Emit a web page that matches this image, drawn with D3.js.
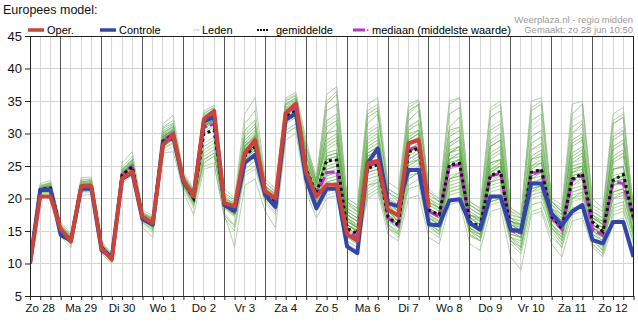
<!DOCTYPE html>
<html><head><meta charset="utf-8">
<script src="https://cdn.jsdelivr.net/npm/d3@7"></script>
<style>
html,body{margin:0;padding:0;background:#fff;}
svg{display:block;font-family:Arial,"Liberation Sans",sans-serif;}
</style></head><body>
<svg id="c" width="638" height="329"></svg>
<script>
// ---- data ----
const dayLabels = ["Zo 28","Ma 29","Di 30","Wo 1","Do 2","Vr 3","Za 4","Zo 5","Ma 6","Di 7","Wo 8","Do 9","Vr 10","Za 11","Zo 12"];
const yTicks = [5,10,15,20,25,30,35,40,45];
const legendLabels = ["Oper.","Controle","Leden","gemiddelde","mediaan (middelste waarde)"];
// 6-hourly steps from Zo 28 06:00
const steps = d3.range(60);

const oper = [10.0,20.3,20.3, 15.3,13.4,21.9,21.9, 12.3,10.6,23.1,24.1, 17.2,16.2,28.2,29.8, 22.8,20.3,32.2,33.5,
  19.3,18.8,27.0,29.0, 21.1,20.0,33.1,34.6, 24.0,20.3,22.1,22.1, 14.5,13.5,25.4,25.8, 18.3,17.4,28.5,29.0, 18.7];
const controle = [10.0,21.3,21.3, 14.4,13.5,21.5,21.5, 12.0,11.0,23.0,24.0, 16.8,16.0,28.5,29.5, 22.5,20.5,31.8,32.6,
  19.0,18.1,25.5,26.7, 20.5,18.7,32.1,33.1, 23.0,18.5,21.5,21.5, 12.6,11.6,25.4,27.7, 19.3,18.8,24.4,24.4,
  16.0,15.9,19.7,19.9, 16.2,15.2,20.3,20.3, 15.2,15.0,22.3,22.3, 17.7,15.9,18.0,19.0, 13.6,13.1,16.4,16.4, 11.0];
const gemiddelde = [10.0,21.4,21.6, 15.3,13.6,21.9,21.9, 12.5,10.8,23.6,24.9, 17.1,16.1,28.8,29.8, 22.6,20.0,30.0,30.5,
  19.0,18.0,26.5,28.0, 20.8,19.6,32.5,33.5, 24.5,20.8,25.8,25.9, 15.4,14.6,24.6,25.2, 17.2,15.9,27.2,27.7,
  18.2,17.5,25.2,25.4, 16.4,15.7,23.5,24.2, 15.2,14.9,24.0,24.5, 17.2,15.4,23.0,23.8, 16.4,14.9,22.8,23.7, 17.0];
const mediaan = [10.0,21.4,21.6, 15.3,13.6,21.9,21.9, 12.5,10.8,23.6,24.9, 17.1,16.1,29.0,30.0, 22.6,20.0,30.9,31.5,
  19.0,18.0,26.8,28.2, 20.9,19.7,32.8,33.8, 24.0,20.5,24.0,24.1, 15.0,14.0,25.0,25.5, 17.0,15.8,27.5,28.0,
  18.0,17.2,25.0,25.2, 16.2,15.5,23.4,23.9, 15.0,14.7,23.7,24.3, 17.0,15.2,22.8,23.6, 15.2,14.4,22.6,22.3, 16.8];

const leden = [
 [10.0,21.6,21.8, 15.4,13.8,22.0,22.2, 12.8,11.0,23.8,25.2, 17.3,16.4,29.5,30.4, 23.0,20.6,31.5,32.6, 19.6,18.5,27.5,29.0, 21.3,20.0,33.4,34.5, 25.0,21.2,26.0,26.5, 17.0,15.8,27.0,27.8, 19.0,17.5,29.0,30.0, 19.0,18.0,27.0,27.5, 17.5,16.8,25.5,26.0, 16.5,15.8,26.0,26.5, 18.5,16.5,25.0,25.5, 16.5,15.5,24.5,24.8, 18.0],
 [9.8,20.8,20.9, 14.8,13.0,21.0,21.2, 12.0,10.4,22.8,24.0, 16.4,15.2,27.8,28.6, 21.8,19.0,26.0,27.0, 17.5,15.8,24.5,25.8, 19.8,18.2,30.5,31.5, 22.5,18.8,21.5,21.8, 14.5,13.5,21.5,22.5, 16.0,14.8,22.0,23.0, 15.8,14.5,20.5,21.0, 14.2,13.5,19.5,20.0, 13.5,12.5,19.0,19.5, 15.0,13.0,18.5,19.0, 13.5,12.0,17.5,18.0, 13.5],
 [10.1,21.8,22.2, 15.8,14.2,22.5,22.8, 13.0,11.2,24.2,25.6, 17.6,16.8,30.2,31.0, 23.4,21.0,32.5,33.4, 20.2,19.2,29.0,30.5, 21.8,20.8,34.5,35.4, 26.5,22.0,30.0,31.5, 18.5,17.5,31.5,33.0, 21.0,19.5,32.0,33.5, 21.0,19.5,31.0,32.5, 19.0,18.0,30.5,31.5, 17.5,17.0,32.0,33.0, 19.5,18.0,30.0,31.5, 18.0,17.0,29.5,30.5, 18.0],
 [9.9,21.0,21.2, 15.0,13.4,21.6,21.5, 12.4,10.8,23.2,24.4, 16.8,15.6,28.4,29.4, 22.2,19.6,27.5,28.5, 18.6,17.4,26.0,27.5, 20.4,19.0,32.0,33.0, 23.5,20.0,23.0,23.5, 15.5,14.5,24.0,24.5, 17.5,16.0,27.0,28.0, 17.5,16.5,26.0,27.0, 16.0,15.0,22.5,23.0, 14.5,14.0,21.0,21.5, 16.0,14.0,22.0,23.0, 15.0,14.0,21.0,21.5, 16.5],
 [10.2,22.0,22.4, 16.0,14.4,22.8,23.0, 13.2,11.4,24.5,26.0, 17.8,17.0,30.8,31.6, 23.6,21.2,33.0,34.0, 20.8,19.8,30.5,32.0, 22.5,21.0,35.0,35.8, 28.0,22.5,33.5,34.5, 19.5,18.5,33.0,34.0, 21.5,20.5,33.5,34.5, 20.0,18.5,28.0,29.0, 16.5,15.5,24.0,25.0, 15.0,14.0,21.0,22.0, 16.0,14.5,20.0,21.0, 14.0,13.0,19.0,19.5, 14.0],
 [9.8,20.6,20.8, 14.6,12.8,20.8,21.0, 11.8,10.2,22.6,23.8, 16.0,14.8,27.2,28.0, 21.4,18.4,26.5,27.5, 17.8,16.0,23.5,24.5, 19.2,17.5,30.0,31.0, 21.5,18.0,20.5,21.0, 14.0,13.0,22.0,23.0, 16.5,15.5,25.0,26.0, 17.0,16.5,28.0,29.5, 18.5,17.5,30.0,31.0, 18.0,17.5,31.0,32.5, 19.0,18.0,32.0,33.0, 18.5,17.5,31.5,32.5, 17.5],
 [10.0,21.4,21.6, 15.3,13.6,21.9,21.9, 12.6,10.9,23.6,25.0, 17.1,16.1,29.0,30.0, 22.6,20.2,31.0,32.0, 19.2,18.2,27.0,28.5, 21.0,19.8,33.0,34.0, 24.5,21.0,25.0,25.5, 16.5,15.5,26.5,27.0, 18.5,17.0,28.5,29.5, 18.5,17.5,22.0,22.5, 15.5,14.5,20.0,20.5, 14.0,13.5,23.0,24.0, 17.5,15.5,26.0,27.0, 17.0,16.0,26.0,27.0, 18.5],
 [9.9,21.1,21.3, 15.1,13.3,21.7,21.7, 12.3,10.6,23.3,24.6, 16.9,15.8,28.6,29.6, 22.4,19.8,28.0,29.0, 19.0,17.8,26.5,28.0, 20.6,19.2,32.5,33.5, 23.0,19.5,22.0,22.5, 13.5,12.5,20.5,21.5, 15.5,14.5,23.0,24.0, 16.0,15.0,24.5,25.5, 16.5,15.5,26.0,27.0, 16.0,15.5,24.0,24.5, 17.0,15.0,23.5,24.0, 15.0,14.0,23.5,24.0, 17.0],
 [10.1,21.7,22.0, 15.6,14.0,22.3,22.5, 12.9,11.1,24.0,25.4, 17.4,16.6,29.8,30.8, 23.2,20.8,32.0,33.0, 19.8,18.8,28.5,30.0, 21.6,20.4,34.0,35.0, 27.5,23.0,34.5,36.0, 19.5,18.0,29.0,30.0, 20.0,18.5,25.0,26.0, 16.5,15.5,23.0,24.0, 15.5,14.5,22.5,23.5, 14.5,14.0,24.5,25.5, 17.5,16.0,24.0,25.0, 16.0,15.0,22.0,23.0, 16.0],
 [10.0,21.2,21.4, 15.2,13.5,21.8,21.8, 12.5,10.8,23.4,24.8, 17.0,16.0,28.8,29.8, 22.5,20.0,30.8,31.8, 19.0,17.9,26.8,28.2, 20.8,19.5,32.8,33.8, 24.0,20.5,24.0,24.5, 16.0,15.0,25.0,25.5, 18.0,16.5,26.0,27.0, 17.0,16.0,21.0,21.5, 14.5,13.5,19.0,19.5, 13.0,11.5,18.0,18.5, 14.0,12.5,17.5,18.0, 13.0,11.5,16.5,17.0, 12.0],
 [10.0,21.5,21.7, 15.3,13.7,22.0,22.1, 12.7,11.0,23.7,25.1, 17.2,16.3,29.2,30.2, 22.8,20.4,31.2,32.2, 19.4,18.4,27.8,29.5, 21.2,20.2,33.8,34.8, 25.5,22.0,28.0,29.0, 17.5,16.5,28.0,29.0, 19.5,18.0,30.5,31.5, 19.5,18.5,29.5,30.5, 18.0,17.0,28.0,29.0, 17.0,16.5,27.5,28.5, 18.5,17.5,28.0,29.0, 17.5,16.5,27.5,28.5, 19.0],
 [9.9,21.3,21.5, 15.0,13.2,21.6,21.7, 12.2,10.5,23.2,24.5, 16.6,15.4,28.2,29.2, 22.0,19.2,26.5,27.5, 17.5,15.5,25.5,27.0, 20.2,18.8,31.5,32.5, 23.5,19.8,23.5,24.0, 15.0,14.0,24.5,25.0, 17.0,15.0,27.5,28.5, 16.5,15.0,25.5,26.0, 15.0,13.5,23.5,24.0, 13.5,12.0,23.5,24.0, 16.0,14.0,22.5,23.0, 14.0,12.5,22.0,22.5, 15.5],
 [10.2,22.3,22.8, 16.3,14.6,23.2,23.3, 13.4,11.5,25.5,27.2, 18.2,17.4,31.5,32.8, 24.0,21.5,33.5,34.3, 21.5,20.0,33.0,35.5, 23.0,21.5,35.5,36.3, 29.0,22.5,36.0,37.2, 20.0,19.0,34.5,35.5, 22.5,21.5,34.5,35.2, 21.5,20.0,34.5,35.5, 19.5,18.5,34.0,35.0, 18.5,17.5,35.0,35.5, 20.0,19.0,34.5,35.0, 20.0,18.5,33.0,34.0, 18.0],
 [9.6,20.4,20.5, 14.2,12.4,20.5,20.6, 11.5,10.0,22.4,23.5, 15.6,14.0,27.0,27.2, 21.0,17.5,24.5,25.0, 17.5,12.6,22.0,23.0, 18.0,15.5,29.0,30.0, 21.0,17.0,20.0,20.5, 13.0,12.0,20.0,21.0, 14.5,13.5,20.0,20.5, 14.0,13.0,19.0,19.5, 13.0,12.0,18.0,18.5, 11.0,9.0,17.5,18.0, 13.0,11.0,16.5,17.0, 12.5,11.0,16.0,16.5, 11.0],
 [10.0,21.6,21.8, 15.5,13.9,22.2,22.3, 12.8,11.0,23.9,25.3, 17.4,16.5,29.5,30.5, 23.0,20.5,31.8,32.8, 19.6,18.6,28.0,29.8, 21.5,20.3,33.6,34.6, 26.0,22.0,29.0,30.0, 18.0,17.0,30.0,31.0, 20.0,19.0,31.0,32.0, 20.0,19.0,30.5,31.0, 18.5,17.5,26.5,27.5, 16.5,15.5,25.0,26.0, 17.5,16.0,24.5,25.0, 15.5,14.5,21.0,21.5, 15.0],
 [9.9,21.0,21.1, 14.9,13.2,21.4,21.5, 12.3,10.6,23.0,24.3, 16.7,15.6,28.0,29.0, 22.0,19.4,27.0,28.0, 18.8,17.6,26.0,27.0, 20.4,19.0,32.0,33.0, 22.5,19.0,22.5,23.0, 15.5,14.5,23.5,24.0, 17.0,16.0,24.0,25.0, 17.5,16.0,23.5,24.0, 16.5,15.5,21.0,21.5, 15.5,15.0,22.0,23.0, 17.5,16.0,20.5,21.0, 14.5,13.5,18.5,19.0, 14.5],
 [10.1,21.9,22.3, 15.7,14.1,22.6,22.7, 13.0,11.2,24.3,25.8, 17.6,16.9,30.0,31.2, 23.3,20.9,32.8,33.6, 20.0,19.0,29.5,31.0, 22.0,20.6,34.3,35.2, 27.0,22.5,31.0,32.0, 18.0,17.0,27.5,28.5, 19.5,18.0,27.0,28.0, 18.5,17.5,27.0,28.0, 17.5,16.5,28.0,29.0, 16.5,16.0,28.5,29.5, 19.0,17.5,29.0,30.0, 17.0,16.5,28.0,29.0, 17.5],
 [9.9,21.2,21.4, 15.1,13.4,21.7,21.8, 12.4,10.7,23.3,24.6, 16.9,15.8,28.6,29.6, 22.3,19.7,30.3,31.3, 18.9,17.7,26.3,27.7, 20.5,19.2,32.3,33.3, 23.8,20.3,25.5,26.0, 16.5,15.5,22.5,23.0, 16.0,15.0,24.5,25.5, 16.5,15.5,26.5,27.0, 17.0,16.0,23.0,23.5, 15.0,14.5,25.5,26.5, 17.0,15.5,21.0,21.5, 14.5,13.0,22.5,23.0, 16.5],
 [10.0,21.5,21.6, 15.4,13.7,21.9,22.0, 12.6,10.9,23.6,25.0, 17.1,16.2,29.0,30.0, 22.6,20.1,31.0,32.0, 19.2,18.0,27.2,28.6, 21.0,19.7,33.0,34.0, 24.5,20.8,27.0,27.5, 16.5,15.5,25.5,26.0, 18.0,16.8,27.5,28.5, 18.0,17.0,26.0,26.5, 16.5,15.5,24.5,25.5, 16.0,15.0,24.0,24.5, 18.0,16.5,24.0,24.5, 15.5,14.5,24.5,25.0, 17.5],
 [10.0,21.3,21.5, 15.2,13.5,21.8,21.9, 12.5,10.8,23.5,24.8, 17.0,16.0,28.8,29.8, 22.5,20.0,30.7,31.7, 19.0,17.9,26.8,28.3, 20.9,19.5,32.8,33.8, 24.0,20.5,24.5,25.0, 16.0,15.0,26.0,27.0, 18.5,17.0,29.0,30.0, 18.0,17.0,24.5,25.0, 17.0,16.5,22.0,22.5, 15.5,15.0,22.5,23.0, 17.0,15.5,23.5,24.0, 16.0,15.0,22.0,22.5, 16.5],
 [10.0,21.8,22.0, 15.6,13.9,22.1,22.4, 12.9,11.1,24.1,25.5, 17.5,16.6,29.6,30.6, 23.1,20.7,31.8,32.9, 19.7,18.7,28.2,29.6, 21.4,20.1,33.3,34.3, 25.0,21.5,23.5,24.0, 16.0,14.8,24.0,24.5, 17.5,16.0,26.0,27.0, 18.0,17.0,23.0,23.5, 16.0,15.0,27.0,28.0, 16.5,16.0,25.0,25.5, 17.5,16.0,26.5,27.5, 16.5,15.5,23.0,23.5, 17.0],
 [9.9,21.0,21.2, 15.0,13.3,21.5,21.6, 12.2,10.6,23.1,24.4, 16.7,15.6,28.3,29.3, 22.1,19.5,28.5,29.5, 18.7,17.5,26.2,27.4, 20.3,18.9,31.8,32.8, 23.0,19.6,24.5,25.0, 16.0,15.2,23.0,23.5, 17.0,15.5,25.5,26.5, 17.0,16.0,27.5,28.0, 17.5,16.5,22.5,23.0, 15.0,14.0,21.5,22.0, 15.5,13.5,20.0,20.5, 14.0,12.0,20.5,21.0, 15.0],
 [10.1,21.6,21.9, 15.5,13.8,22.2,22.3, 12.8,11.0,23.9,25.3, 17.3,16.4,29.4,30.3, 22.9,20.5,31.6,32.5, 19.5,18.5,27.6,29.2, 21.3,20.0,33.5,34.4, 25.5,21.8,30.0,30.5, 17.0,16.0,26.5,27.5, 18.5,17.5,24.0,24.5, 17.0,16.0,25.0,26.0, 16.5,15.5,24.0,25.0, 15.5,14.5,26.0,27.0, 18.0,16.5,27.0,28.0, 17.5,16.0,25.5,26.5, 17.5],
 [10.0,21.3,21.6, 15.3,13.6,21.8,22.0, 12.6,10.9,23.5,24.9, 17.0,16.0,28.9,29.9, 22.6,20.1,31.1,32.1, 19.1,18.1,27.3,28.7, 21.0,19.6,33.1,34.1, 24.5,20.8,25.5,26.0, 15.5,14.0,22.0,22.5, 15.5,14.5,27.5,28.5, 18.0,17.0,28.5,29.5, 18.0,17.0,28.5,29.5, 17.0,16.5,27.5,28.0, 18.0,17.0,25.5,26.0, 15.0,13.5,26.0,27.0, 18.0],
 [9.9,21.1,21.3, 15.0,13.2,21.5,21.6, 12.3,10.6,23.2,24.5, 16.8,15.7,28.4,29.4, 22.3,19.6,25.5,26.5, 18.9,17.6,26.4,27.8, 20.6,19.3,32.4,33.4, 23.6,20.2,26.5,27.0, 16.8,15.6,25.0,25.5, 17.5,16.5,25.5,26.0, 17.5,16.5,21.5,22.0, 15.0,14.0,19.5,20.0, 14.0,12.5,20.5,21.0, 15.5,14.0,23.0,23.5, 16.0,14.5,22.5,23.0, 16.0],
 [10.0,21.5,21.7, 15.4,13.7,22.0,22.0, 12.7,11.0,23.8,25.1, 17.2,16.3,29.2,30.2, 22.8,20.3,31.3,32.3, 19.4,18.3,27.5,29.0, 21.2,19.9,33.2,34.2, 24.8,21.0,27.5,28.5, 17.5,16.5,29.5,30.5, 19.0,18.0,30.0,30.5, 19.5,18.0,26.0,27.0, 17.0,16.0,24.5,25.0, 16.0,15.0,23.0,23.5, 16.5,15.0,21.5,22.0, 14.5,13.5,20.0,21.0, 14.5],
 [10.1,21.7,22.1, 15.6,14.0,22.4,22.6, 12.9,11.2,24.4,26.0, 17.6,16.8,30.4,31.4, 23.4,21.0,32.6,33.6, 20.0,19.2,29.8,31.5, 21.8,20.6,34.6,35.5, 26.5,22.5,32.0,33.0, 19.0,18.0,32.5,33.5, 21.0,20.0,33.0,34.5, 20.5,19.5,33.0,34.0, 19.0,18.0,32.5,33.5, 18.0,17.0,33.5,34.5, 19.5,18.0,33.0,34.5, 19.0,18.0,31.5,32.5, 18.5],
 [9.8,20.9,21.0, 14.7,13.0,21.1,21.2, 12.0,10.4,22.9,24.0, 16.3,15.0,27.6,28.4, 21.7,18.8,25.0,25.5, 17.0,15.0,24.0,25.0, 19.5,17.8,30.0,31.0, 22.0,18.5,21.0,21.5, 14.0,13.0,21.0,22.0, 15.5,14.0,21.5,22.0, 15.0,14.0,21.0,21.5, 14.5,13.5,20.0,20.5, 13.5,12.0,20.0,20.5, 14.5,12.5,19.5,20.0, 13.0,11.5,18.0,18.5, 13.0],
 [10.0,21.4,21.7, 15.3,13.6,22.0,22.1, 12.6,10.9,23.7,25.0, 17.1,16.2,29.1,30.1, 22.7,20.2,31.2,32.2, 19.3,18.2,27.4,28.9, 21.1,19.8,33.0,34.0, 24.5,21.0,26.5,27.0, 16.5,15.5,27.0,28.0, 18.5,17.5,28.0,29.0, 18.5,17.5,27.0,28.0, 17.0,16.0,25.0,26.0, 16.0,15.0,26.5,27.5, 17.5,16.0,25.5,26.5, 16.0,15.0,26.5,27.5, 17.5],
 [9.9,21.2,21.4, 15.1,13.4,21.6,21.8, 12.4,10.7,23.3,24.6, 16.9,15.8,28.5,29.5, 22.3,19.7,30.3,31.3, 18.9,17.7,26.4,27.8, 20.6,19.3,32.4,33.4, 23.8,20.2,23.0,23.5, 15.2,14.2,23.0,23.5, 16.5,15.5,26.0,27.0, 17.5,16.5,25.0,25.5, 16.5,15.5,24.0,24.5, 15.5,14.5,22.5,23.0, 16.5,15.0,22.0,22.5, 15.0,13.5,22.0,22.5, 16.0],
 [10.1,22.0,22.5, 16.0,14.3,22.9,23.0, 13.1,11.3,24.8,26.5, 17.9,17.1,31.0,32.0, 23.7,21.3,33.2,34.0, 20.5,19.5,31.5,33.5, 22.5,21.0,35.2,36.0, 28.0,23.5,35.0,36.5, 20.0,19.0,33.5,34.5, 21.5,20.5,34.0,35.0, 21.0,20.0,35.0,35.5, 19.5,18.5,33.5,34.5, 18.5,17.5,34.0,35.0, 19.5,18.5,31.0,32.0, 18.0,17.0,32.0,33.0, 18.0],
 [9.9,21.1,21.2, 15.0,13.3,21.5,21.6, 12.3,10.6,23.1,24.4, 16.7,15.6,28.2,29.2, 22.2,19.5,30.0,31.0, 18.8,17.5,26.0,27.5, 20.4,19.0,32.0,33.0, 23.0,19.5,22.5,23.0, 14.5,13.5,25.0,26.0, 17.0,16.0,23.5,24.0, 16.0,15.0,23.0,23.5, 15.0,14.5,25.5,26.0, 16.5,15.0,21.5,22.0, 16.0,14.5,24.5,25.0, 15.5,14.0,20.0,20.5, 14.5],
 [10.0,21.6,21.9, 15.5,13.9,22.2,22.4, 12.8,11.1,24.0,25.4, 17.4,16.5,29.6,30.6, 23.0,20.6,31.7,32.7, 19.6,18.6,28.0,29.5, 21.4,20.2,33.6,34.6, 25.5,22.0,28.5,29.5, 17.5,16.5,28.5,29.5, 19.5,18.5,29.5,30.5, 19.5,18.5,28.5,29.5, 17.5,17.0,29.0,30.0, 17.0,16.0,29.5,30.5, 18.5,17.0,28.5,29.5, 17.0,16.0,29.0,30.0, 17.5],
 [9.9,21.0,21.1, 14.9,13.1,21.3,21.4, 12.2,10.5,23.0,24.2, 16.6,15.4,28.0,29.0, 22.0,19.2,26.0,27.0, 18.5,17.2,25.5,26.5, 20.0,18.5,31.5,32.5, 22.5,19.0,22.0,22.5, 15.0,14.0,22.0,22.5, 16.0,14.5,23.0,24.0, 15.5,14.5,22.5,23.0, 15.5,14.0,21.5,22.0, 14.0,13.0,21.5,22.0, 15.5,13.5,21.0,21.5, 14.0,12.5,21.0,21.5, 15.0],
 [10.0,21.4,21.6, 15.3,13.6,21.9,22.0, 12.6,10.9,23.6,25.0, 17.1,16.2,29.0,30.0, 22.7,20.2,31.1,32.1, 19.3,18.2,27.2,28.6, 21.0,19.7,33.0,34.0, 24.8,21.0,26.0,26.5, 16.0,15.0,26.0,26.5, 18.0,16.5,26.5,27.5, 18.0,17.0,25.5,26.0, 16.5,15.5,23.5,24.0, 15.5,14.5,23.5,24.0, 17.0,15.5,23.0,23.5, 15.5,14.5,23.0,23.5, 16.5],
 [10.1,21.8,22.1, 15.7,14.0,22.4,22.5, 12.9,11.1,24.2,25.7, 17.5,16.7,29.9,30.9, 23.2,20.8,32.3,33.2, 19.8,18.8,28.6,30.2, 21.6,20.4,34.0,35.0, 26.0,22.0,31.5,32.5, 18.5,17.5,30.5,31.5, 20.5,19.0,31.0,32.0, 20.0,19.0,30.0,31.0, 18.5,17.5,31.0,32.0, 17.5,16.5,30.5,31.5, 19.0,17.5,30.0,31.0, 18.0,17.0,30.0,31.0, 18.0]
];

// ---- layout ----
const L = 30, R = 633.5, T = 36, B = 296;
const svg = d3.select("#c");
const x = d3.scaleLinear().domain([0, steps.length - 1]).range([L, R]);
const y = d3.scaleLinear().domain([5, 45]).range([B, T]);

svg.append("defs").append("clipPath").attr("id","plot")
  .append("rect").attr("x",L).attr("y",T).attr("width",R-L).attr("height",B-T);

// horizontal grid
svg.append("g").selectAll("line").data(yTicks).join("line")
  .attr("x1",L).attr("x2",R).attr("y1",d=>y(d)).attr("y2",d=>y(d))
  .attr("stroke","#d6d6d6").attr("stroke-width",1).attr("shape-rendering","crispEdges");
// vertical grid (6h light, day boundary dark)
const isDay = i => (i - 3) % 4 === 0;
svg.append("g").selectAll("line").data(steps.filter(i=>!isDay(i) && i>0)).join("line")
  .attr("x1",d=>x(d)).attr("x2",d=>x(d)).attr("y1",T).attr("y2",B)
  .attr("stroke","#d6d6d6").attr("stroke-width",1).attr("shape-rendering","crispEdges");

// series
const line = d3.line().x((d,i)=>x(steps[i])).y(d=>y(d));
const gp = svg.append("g").attr("clip-path","url(#plot)");
const memberColors = ["#3f9c25","#5bb03c","#4aa52f","#6fb957","#489f2c","#a3c49c"];
gp.selectAll("path.m").data(leden).join("path").attr("class","m")
  .attr("d",line).attr("fill","none")
  .attr("stroke",(d,i)=> (i===12||i===13||i===30) ? "#9fbf98" : memberColors[i%memberColors.length])
  .attr("stroke-opacity",(d,i)=> (i===12||i===13||i===30) ? 0.75 : 0.55)
  .attr("stroke-width",1);

svg.append("g").selectAll("line").data(steps.filter(i=>isDay(i))).join("line")
  .attr("x1",d=>x(d)).attr("x2",d=>x(d)).attr("y1",T).attr("y2",B)
  .attr("stroke","#555").attr("stroke-width",1).attr("shape-rendering","crispEdges");

const gs = svg.append("g").attr("clip-path","url(#plot)");
gs.append("path").datum(mediaan).attr("d",line).attr("fill","none")
  .attr("stroke","#bb33cc").attr("stroke-width",3).attr("stroke-dasharray","10,3");
gs.append("path").datum(gemiddelde).attr("d",line).attr("fill","none")
  .attr("stroke","#111").attr("stroke-width",3).attr("stroke-dasharray","3,3");
gs.append("path").datum(controle).attr("d",line).attr("fill","none")
  .attr("stroke","#3344aa").attr("stroke-width",4).attr("stroke-linejoin","round");
gs.append("path").datum(oper).attr("d",line).attr("fill","none")
  .attr("stroke","#cc4438").attr("stroke-width",4).attr("stroke-linejoin","round");

// frame
svg.append("rect").attr("x",L).attr("y",T).attr("width",R-L).attr("height",B-T)
  .attr("fill","none").attr("stroke","#222").attr("stroke-width",1).attr("shape-rendering","crispEdges");

// axes
const yAxis = d3.axisLeft(y).tickValues(yTicks).tickSize(5).tickSizeOuter(0).tickPadding(3);
const ga = svg.append("g").attr("transform",`translate(${L},0)`).call(yAxis);
ga.select(".domain").remove();
ga.selectAll("text").attr("font-size",13).attr("font-family","Arial, 'Liberation Sans', sans-serif").attr("fill","#111");
ga.selectAll("line").attr("stroke","#222");

const xAxis = d3.axisBottom(x).tickValues(steps).tickSize(4).tickSizeOuter(0).tickFormat("");
const gx = svg.append("g").attr("transform",`translate(0,${B})`).call(xAxis);
gx.select(".domain").remove();
gx.selectAll("line").attr("stroke","#222");

const noonSteps = dayLabels.map((d,i)=>1+4*i);
svg.append("g").selectAll("text").data(dayLabels).join("text")
  .attr("x",(d,i)=>x(noonSteps[i])).attr("y",311.5).attr("text-anchor","middle")
  .attr("font-size",11.5).attr("fill","#111").text(d=>d);

// title & header
svg.append("text").attr("x",3).attr("y",14).attr("font-size",12.5).attr("fill","#111").text("Europees model:");
svg.append("text").attr("x",633).attr("y",23).attr("text-anchor","end").attr("font-size",9.5).attr("fill","#9a9a9a").text("Weerplaza.nl - regio midden");
svg.append("text").attr("x",633).attr("y",32.5).attr("text-anchor","end").attr("font-size",9.5).attr("fill","#9a9a9a").text("Gemaakt: zo 28 jun 10:50");

// legend
const lg = svg.append("g");
lg.append("line").attr("x1",28).attr("x2",44).attr("y1",30).attr("y2",30).attr("stroke","#cc4438").attr("stroke-width",3.5);
lg.append("text").attr("x",47).attr("y",33.5).attr("font-size",11).text(legendLabels[0]);
lg.append("line").attr("x1",100).attr("x2",116).attr("y1",30).attr("y2",30).attr("stroke","#3344aa").attr("stroke-width",3.5);
lg.append("text").attr("x",119).attr("y",33.5).attr("font-size",11).text(legendLabels[1]);
lg.append("line").attr("x1",193).attr("x2",200).attr("y1",30).attr("y2",30).attr("stroke","#c8d0c0").attr("stroke-width",1);
lg.append("text").attr("x",202).attr("y",33.5).attr("font-size",11).text(legendLabels[2]);
lg.append("line").attr("x1",257).attr("x2",268).attr("y1",30).attr("y2",30).attr("stroke","#111").attr("stroke-width",2).attr("stroke-dasharray","2,1");
lg.append("text").attr("x",276).attr("y",33.5).attr("font-size",11).text(legendLabels[3]);
lg.append("line").attr("x1",353).attr("x2",365).attr("y1",30).attr("y2",30).attr("stroke","#bb33cc").attr("stroke-width",3);
lg.append("line").attr("x1",367).attr("x2",368.5).attr("y1",30).attr("y2",30).attr("stroke","#bb33cc").attr("stroke-width",1.5);
lg.append("text").attr("x",372).attr("y",33.5).attr("font-size",11).text(legendLabels[4]);
</script>
</body></html>
